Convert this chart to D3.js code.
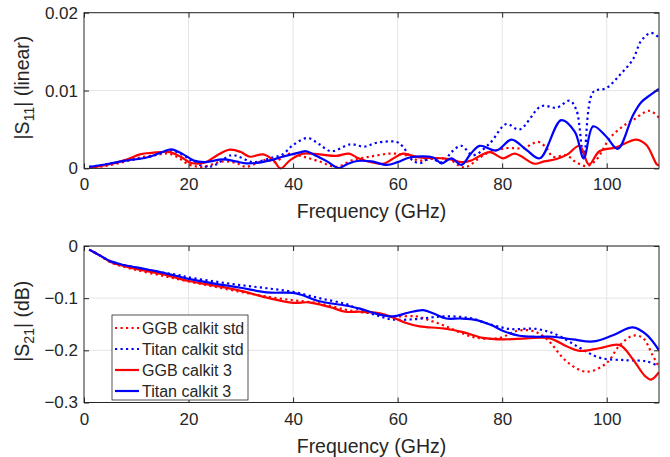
<!DOCTYPE html>
<html>
<head>
<meta charset="utf-8">
<script src="https://cdn.jsdelivr.net/npm/d3@7"></script>
<style>
  body { margin: 0; background: #fff; }
  svg text { font-family: "Liberation Sans", Arial, sans-serif; fill: #262626; }
</style>
</head>
<body>
<div id="chart"></div>
<script>
// |S11| readings [GHz, linear]
const s11GgbStd = [[1,0.0001],[4,0.0003],[8,0.0009],[10.7,0.0014],[13.5,0.0017],[16.1,0.0019],[18,0.0014],[20.1,0.0005],[22.7,0.0002],[26.6,0.0009],[29.1,0.0007],[31,0.0002],[34.8,0.0011],[36.5,0.0008],[38.5,0.0017],[39.5,0.0019],[42,0.0015],[45,0.0009],[48.3,0.0002],[51.5,0.0011],[54.7,0.0015],[58.5,0.0019],[61.6,0.0017],[64.2,0.001],[67.4,0.0013],[70,0.0011],[72.2,0.0002],[73.2,0.0002],[77,0.0019],[80.8,0.0026],[84,0.0026],[86.9,0.0034],[88.5,0.0026],[89.7,0.0015],[92.3,0.0017],[93.9,0.0009],[96.1,0.0003],[98,0.0011],[100.6,0.0039],[103.1,0.0054],[105,0.0062],[108.2,0.0074],[110,0.0065]];
const s11TitanStd = [[1,0.0002],[4,0.0005],[8,0.001],[12,0.0014],[15,0.002],[16.5,0.0023],[19,0.0017],[21,0.0008],[23.5,0.0002],[25,0.0004],[28.2,0.0017],[30,0.0014],[32.3,0.0008],[36,0.0014],[38,0.0018],[40,0.003],[42.8,0.0039],[45,0.0031],[47.3,0.0022],[51,0.0031],[53.6,0.0028],[56,0.0033],[59.8,0.0034],[61,0.0028],[62.9,0.001],[64.5,0.0007],[66,0.0013],[68.7,0.0008],[70.3,0.0021],[72.2,0.0029],[74.4,0.0017],[77.6,0.0032],[80.8,0.0057],[83.3,0.005],[87.5,0.008],[90.4,0.0078],[92.9,0.0087],[94.2,0.0075],[95.6,0.0015],[97.4,0.0098],[99.9,0.0103],[102.5,0.012],[105,0.014],[106.6,0.0164],[108.5,0.0174],[110,0.0168]];
const s11Ggb3 = [[1,0.0001],[4,0.0004],[8,0.0011],[10.7,0.0018],[13,0.002],[16.4,0.0021],[18.5,0.0015],[20.5,0.0007],[23.3,0.0008],[25.5,0.0017],[27.9,0.0024],[30,0.0021],[31.7,0.0015],[34.3,0.0018],[36.3,0.001],[37.6,0],[39.5,0.0011],[41.9,0.0019],[45,0.0018],[48.3,0.0016],[50.7,0.0019],[52.5,0.0013],[54,0.00095],[57.2,0.0006],[59,0.0012],[61,0.0019],[64.2,0.0014],[68.7,0.0013],[70.5,0.0011],[72.2,0.0008],[74,0.001],[77.6,0.0021],[80.2,0.0013],[82.4,0.0019],[86.2,0.0006],[88,0.0009],[90.4,0.0012],[92.5,0.0018],[94.8,0.0029],[96.6,0.0005],[98.6,0.0022],[101.8,0.0027],[105.7,0.0037],[107.6,0.003],[109.6,0.0005],[110,0.0004]];
const s11Titan3 = [[1,0.0002],[4,0.0005],[8,0.001],[12,0.0014],[15,0.0021],[16.7,0.00245],[19,0.0018],[21,0.001],[23,0.0008],[26.6,0.00115],[29,0.0009],[31,0.00065],[33,0.0007],[36,0.0011],[38,0.0015],[41.5,0.0021],[42.5,0.0022],[44.5,0.0016],[46.5,0.0009],[48.7,0.00005],[50.5,0.0006],[52.3,0.00095],[55,0.0009],[57.9,0.00045],[60,0.0008],[62.3,0.0014],[66.8,0.0014],[68.4,0.00065],[70.3,0.0013],[72.2,0.00045],[74,0.0019],[75.7,0.0029],[78.9,0.0023],[81.8,0.0037],[84.6,0.0024],[87.2,0.0013],[91.3,0.0062],[93.9,0.0047],[95.6,0.0013],[97.4,0.0054],[99.9,0.0041],[102.1,0.0025],[105,0.0068],[106.6,0.0085],[108.5,0.0095],[110,0.0102]];

// |S21| readings [GHz, dB]
const s21GgbStd = [[1,-0.007],[3,-0.018],[5,-0.031],[7,-0.038],[10,-0.046],[15,-0.057],[20,-0.068],[25,-0.078],[30,-0.088],[35,-0.097],[40,-0.104],[45,-0.11],[50,-0.122],[53,-0.127],[56,-0.13],[59.1,-0.135],[63.6,-0.135],[66.5,-0.144],[69.3,-0.154],[72,-0.166],[75.1,-0.176],[79.6,-0.176],[82.7,-0.163],[85.9,-0.163],[88.5,-0.178],[92.3,-0.221],[96.1,-0.241],[99.9,-0.225],[102.5,-0.19],[105,-0.172],[106.9,-0.176],[108.8,-0.21],[110,-0.232]];
const s21TitanStd = [[1,-0.007],[3,-0.018],[5,-0.029],[7,-0.035],[10,-0.042],[15,-0.051],[18.3,-0.056],[20,-0.06],[25,-0.068],[30,-0.075],[35,-0.081],[40,-0.088],[45,-0.1],[50,-0.111],[52.8,-0.122],[56,-0.133],[59.1,-0.141],[63.6,-0.14],[68.7,-0.135],[73.8,-0.138],[77,-0.148],[81.4,-0.159],[86.5,-0.159],[90.4,-0.17],[94.8,-0.195],[98.6,-0.214],[103.7,-0.219],[107.6,-0.221],[110,-0.231]];
const s21Ggb3 = [[1,-0.007],[3,-0.018],[5,-0.03],[7,-0.037],[10,-0.044],[15,-0.054],[20,-0.067],[25,-0.076],[30,-0.086],[35,-0.099],[40,-0.109],[43,-0.108],[47,-0.117],[50,-0.126],[52.8,-0.126],[56.6,-0.129],[59.1,-0.137],[61.5,-0.147],[64.2,-0.154],[68.7,-0.158],[72.5,-0.165],[76.3,-0.176],[80.2,-0.179],[84.7,-0.177],[89.1,-0.177],[92.3,-0.192],[94.8,-0.201],[98.6,-0.196],[102.5,-0.19],[105,-0.217],[107.3,-0.249],[108.5,-0.256],[110,-0.242]];
const s21Titan3 = [[1,-0.007],[3,-0.018],[5,-0.029],[7,-0.035],[10,-0.041],[15,-0.051],[20,-0.063],[25,-0.072],[30,-0.08],[35,-0.089],[40,-0.09],[42,-0.095],[45,-0.106],[50,-0.114],[52.8,-0.12],[56,-0.13],[59.1,-0.135],[62,-0.128],[64.9,-0.123],[67,-0.13],[69.3,-0.139],[72,-0.139],[75.1,-0.142],[78,-0.152],[80.2,-0.163],[83.3,-0.172],[86.5,-0.174],[89.7,-0.174],[93.5,-0.179],[97.4,-0.183],[101.2,-0.171],[105,-0.156],[107.6,-0.17],[110,-0.2]];

const seriesNames = ["GGB calkit std", "Titan calkit std", "GGB calkit 3", "Titan calkit 3"];
const seriesColors = ["#ff0000", "#0000ff", "#ff0000", "#0000ff"];
const seriesDotted = [true, true, false, false];

const xTicks = [0, 20, 40, 60, 80, 100];
const s11Ticks = [0, 0.01, 0.02];
const s21Ticks = [0, -0.1, -0.2, -0.3];

const width = 670;
const height = 457;
const left = 84, right = 659;

const svg = d3.select("#chart").append("svg").attr("width", width).attr("height", height);

const x = d3.scaleLinear().domain([0, 110]).range([left, right]);

const line = (y) => d3.line().x((d) => x(d[0])).y((d) => y(d[1])).curve(d3.curveCatmullRom.alpha(0.5));

function panel(id, top, bottom, yDomain, yTicks, yFmt, data, label, sub, unit) {
  const y = d3.scaleLinear().domain(yDomain).range([bottom, top]);
  const g = svg.append("g");

  // grid
  g.selectAll(".gx").data(xTicks.filter((t) => t > 0)).enter().append("line")
    .attr("x1", (d) => x(d)).attr("x2", (d) => x(d)).attr("y1", top).attr("y2", bottom)
    .attr("stroke", "#e5e5e5").attr("stroke-width", 1);
  g.selectAll(".gy").data(yTicks).enter().append("line")
    .attr("x1", left).attr("x2", right).attr("y1", (d) => y(d)).attr("y2", (d) => y(d))
    .attr("stroke", "#e5e5e5").attr("stroke-width", 1);

  svg.append("clipPath").attr("id", "clip-" + id).append("rect")
    .attr("x", left).attr("y", top - 2).attr("width", right - left).attr("height", bottom - top + 4);

  data.forEach((series, i) => {
    g.append("path")
      .datum(series)
      .attr("clip-path", `url(#clip-${id})`)
      .attr("fill", "none")
      .attr("stroke", seriesColors[i])
      .attr("stroke-width", 2.2)
      .attr("stroke-dasharray", seriesDotted[i] ? "2.2,3.3" : null)
      .attr("d", line(y));
  });

  // axes with inward ticks on all four sides
  g.append("g").attr("transform", `translate(0,${bottom})`)
    .call(d3.axisBottom(x).tickValues(xTicks).tickSizeInner(-5).tickSizeOuter(0).tickPadding(10));
  g.append("g").attr("transform", `translate(0,${top})`)
    .call(d3.axisTop(x).tickValues(xTicks).tickSizeInner(-5).tickSizeOuter(0).tickFormat(""));
  g.append("g").attr("transform", `translate(${left},0)`)
    .call(d3.axisLeft(y).tickValues(yTicks).tickFormat(yFmt).tickSizeInner(-5).tickSizeOuter(0).tickPadding(6));
  g.append("g").attr("transform", `translate(${right},0)`)
    .call(d3.axisRight(y).tickValues(yTicks).tickSizeInner(-5).tickSizeOuter(0).tickFormat(""));

  g.selectAll(".domain").remove();
  g.selectAll(".tick line").attr("stroke", "#262626");
  g.selectAll(".tick text").attr("font-size", 17).attr("fill", "#262626")
    .style("font-family", '"Liberation Sans", Arial, sans-serif');

  g.append("rect").attr("x", left).attr("y", top).attr("width", right - left).attr("height", bottom - top)
    .attr("fill", "none").attr("stroke", "#262626").attr("stroke-width", 1);

  g.append("text")
    .attr("x", (left + right) / 2).attr("y", bottom + 50)
    .attr("text-anchor", "middle").attr("font-size", 19.5)
    .text("Frequency (GHz)");

  const yl = g.append("text")
    .attr("transform", `translate(29,${(top + bottom) / 2 - 3}) rotate(-90)`)
    .attr("text-anchor", "middle").attr("font-size", 19.5);
  yl.append("tspan").text(label);
  yl.append("tspan").attr("font-size", 14).attr("dy", 5).text(sub);
  yl.append("tspan").attr("dy", -5).text(unit);

  return y;
}

panel("s11", 12.7, 168.4, [0, 0.02], s11Ticks, (d) => (d === 0 ? "0" : d3.format(".2f")(d)),
  [s11GgbStd, s11TitanStd, s11Ggb3, s11Titan3], "|S", "11", "| (linear)");

panel("s21", 246, 402.5, [-0.3, 0], s21Ticks, (d) => (d === 0 ? "0" : d3.format(".1f")(d)),
  [s21GgbStd, s21TitanStd, s21Ggb3, s21Titan3], "|S", "21", "| (dB)");

// legend
const legend = svg.append("g").attr("transform", "translate(112,315)");
legend.append("rect").attr("width", 136).attr("height", 85)
  .attr("fill", "#fff").attr("stroke", "#262626").attr("stroke-width", 0.8);
seriesNames.forEach((name, i) => {
  const yy = 13 + i * 21;
  legend.append("line").attr("x1", 3).attr("x2", 27).attr("y1", yy).attr("y2", yy)
    .attr("stroke", seriesColors[i]).attr("stroke-width", 2.2)
    .attr("stroke-dasharray", seriesDotted[i] ? "2.2,3.3" : null);
  legend.append("text").attr("x", 30).attr("y", yy).attr("dy", "0.35em")
    .attr("font-size", 16).text(name);
});
</script>
</body>
</html>
